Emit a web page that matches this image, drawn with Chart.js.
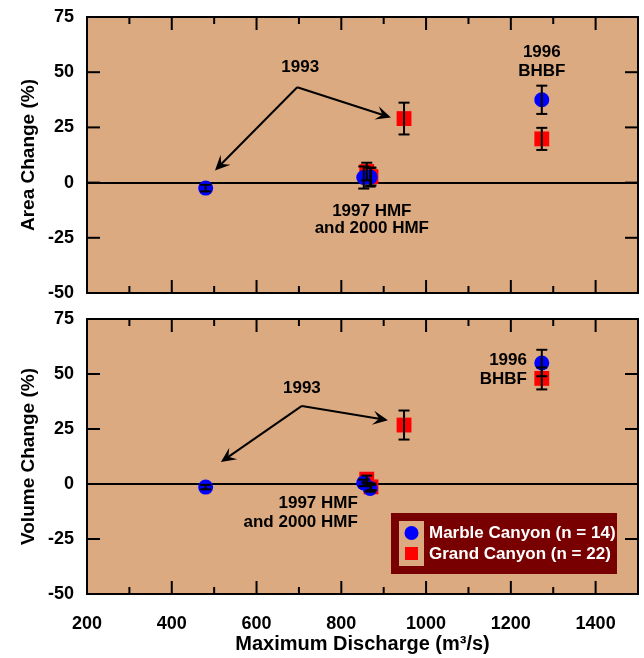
<!DOCTYPE html>
<html>
<head>
<meta charset="utf-8">
<script src="https://cdn.jsdelivr.net/npm/chart.js@4.4.1/dist/chart.umd.min.js"></script>
<style>
  body { margin: 0; background: #fff; }
  #wrap { position: relative; width: 644px; height: 658px; }
  .panel { position: absolute; left: 0; }
  #p1 { top: 0; }
  #p2 { top: 305px; }
</style>
</head>
<body>
<div id="wrap">
  <div class="panel" id="p1"><canvas id="areaChart" width="644" height="305"></canvas></div>
  <div class="panel" id="p2"><canvas id="volChart" width="644" height="353"></canvas></div>
</div>
<script>
// Marble Canyon (circles) and Grand Canyon (squares): 1993, 1997 HMF, 2000 HMF, 1996 BHBF
const marbleDischarge = [480, 853, 868, 1273];
const grandDischarge = [948, 860, 870, 1273];

const marbleArea = [-2.5, 2.3, 2.5, 37.5];
const marbleAreaErr = [1.5, 5, 4.3, 6.4];
const grandArea = [29, 5, 2.7, 19.8];
const grandAreaErr = [7.2, 4, 4, 5];

const marbleVolume = [-1.4, 0.5, -2, 55];
const marbleVolumeErr = [1, 1.5, 1.5, 6];
const grandVolume = [26.8, 2.2, -1.3, 48];
const grandVolumeErr = [6.6, 1.6, 1.5, 5];

const yTicks = [-50, -25, 0, 25, 50, 75];
const xTickStep = 200;

const TAN = '#dcaa80';
const FONT = "'Liberation Sans', Arial, sans-serif";

function pts(xs, ys) {
  return xs.map((x, i) => ({ x: x, y: ys[i] }));
}

function line(ctx, x1, y1, x2, y2) {
  ctx.beginPath();
  ctx.moveTo(x1, y1);
  ctx.lineTo(x2, y2);
  ctx.stroke();
}

function arrow(ctx, x1, y1, x2, y2) {
  const ang = Math.atan2(y2 - y1, x2 - x1);
  const len = 15, half = 7, notch = 9;
  line(ctx, x1, y1, x2 - Math.cos(ang) * notch, y2 - Math.sin(ang) * notch);
  ctx.beginPath();
  ctx.moveTo(x2, y2);
  ctx.lineTo(x2 - Math.cos(ang) * len - Math.sin(ang) * half, y2 - Math.sin(ang) * len + Math.cos(ang) * half);
  ctx.lineTo(x2 - Math.cos(ang) * notch, y2 - Math.sin(ang) * notch);
  ctx.lineTo(x2 - Math.cos(ang) * len + Math.sin(ang) * half, y2 - Math.sin(ang) * len - Math.cos(ang) * half);
  ctx.closePath();
  ctx.fill();
}

// no label overflow padding, so the plot area follows layout.padding exactly
function noOverflow(s) {
  s.paddingTop = 0;
  s.paddingBottom = 0;
  s.paddingLeft = 0;
  s.paddingRight = 0;
}

const panelPlugin = {
  id: 'panel',
  beforeDraw(chart) {
    const a = chart.chartArea, ctx = chart.ctx;
    ctx.save();
    ctx.fillStyle = TAN;
    ctx.fillRect(a.left, a.top, a.right - a.left, a.bottom - a.top);
    ctx.restore();
  },
  afterDatasetsDraw(chart, args, opts) {
    const ctx = chart.ctx, a = chart.chartArea;
    const xs = chart.scales.x, ys = chart.scales.y;
    ctx.save();
    ctx.strokeStyle = '#000';
    ctx.fillStyle = '#000';
    ctx.lineWidth = 2;

    // error bars
    chart.data.datasets.forEach(ds => {
      ds.data.forEach((p, j) => {
        const e = ds.errors[j];
        const px = xs.getPixelForValue(p.x);
        const yt = ys.getPixelForValue(p.y + e), yb = ys.getPixelForValue(p.y - e);
        line(ctx, px, yt, px, yb);
        line(ctx, px - 5.5, yt, px + 5.5, yt);
        line(ctx, px - 5.5, yb, px + 5.5, yb);
      });
    });

    // inward ticks
    xs.ticks.forEach(t => {
      const px = xs.getPixelForValue(t.value);
      line(ctx, px, a.bottom, px, a.bottom - 13);
      line(ctx, px, a.top, px, a.top + 13);
      const mx = xs.getPixelForValue(t.value + xTickStep / 2);
      if (mx < a.right - 2) {
        line(ctx, mx, a.bottom, mx, a.bottom - 7);
        line(ctx, mx, a.top, mx, a.top + 7);
      }
    });
    ys.ticks.forEach(t => {
      const py = ys.getPixelForValue(t.value);
      line(ctx, a.left, py, a.left + 13, py);
      line(ctx, a.right - 13, py, a.right, py);
    });
    ctx.strokeRect(a.left, a.top, a.right - a.left, a.bottom - a.top);

    // annotations
    ctx.font = 'bold 17px ' + FONT;
    ctx.textBaseline = 'middle';
    (opts.texts || []).forEach(t => {
      ctx.textAlign = t.align || 'center';
      ctx.fillText(t.text, xs.getPixelForValue(t.x), ys.getPixelForValue(t.y));
    });
    (opts.arrows || []).forEach(r => {
      arrow(ctx, xs.getPixelForValue(r.from[0]), ys.getPixelForValue(r.from[1]),
        xs.getPixelForValue(r.to[0]), ys.getPixelForValue(r.to[1]));
    });

    // legend box
    if (opts.legend) {
      const bx = a.right - 247, by = a.bottom - 81, bw = 226, bh = 61;
      ctx.fillStyle = '#780000';
      ctx.fillRect(bx, by, bw, bh);
      ctx.fillStyle = TAN;
      ctx.fillRect(bx + 8, by + 8, 25, 45);
      ctx.fillStyle = '#0000ff';
      ctx.beginPath();
      ctx.arc(bx + 20.5, by + 20, 7, 0, Math.PI * 2);
      ctx.fill();
      ctx.fillStyle = '#ff0000';
      ctx.fillRect(bx + 14, by + 34, 13, 13);
      ctx.fillStyle = '#fff';
      ctx.textAlign = 'left';
      ctx.fillText(chart.data.datasets[0].label, bx + 38, by + 20);
      ctx.fillText(chart.data.datasets[1].label, bx + 38, by + 41);
    }
    ctx.restore();
  }
};

function makeChart(id, marbleY, marbleErr, grandY, grandErr, cfg) {
  return new Chart(document.getElementById(id), {
    type: 'scatter',
    data: {
      datasets: [{
        label: 'Marble Canyon (n = 14)',
        data: pts(marbleDischarge, marbleY),
        errors: marbleErr,
        pointStyle: 'circle',
        pointRadius: 7.5,
        pointHoverRadius: 7.5,
        backgroundColor: '#0000ff',
        borderColor: '#0000ff',
        borderWidth: 0
      }, {
        label: 'Grand Canyon (n = 22)',
        data: pts(grandDischarge, grandY),
        errors: grandErr,
        pointStyle: 'rect',
        pointRadius: 10.5,
        pointHoverRadius: 10.5,
        backgroundColor: '#ff0000',
        borderColor: '#ff0000',
        borderWidth: 0
      }]
    },
    options: {
      responsive: false,
      animation: false,
      layout: { autoPadding: false, padding: cfg.padding },
      plugins: {
        legend: { display: false },
        tooltip: { enabled: false },
        panel: cfg.panel
      },
      scales: {
        x: {
          type: 'linear',
          display: cfg.showX,
          min: 200,
          max: 1500,
          afterFit: s => { s.height = cfg.xHeight; noOverflow(s); },
          grid: { display: false },
          border: { display: false },
          ticks: {
            stepSize: xTickStep,
            includeBounds: false,
            autoSkip: false,
            maxRotation: 0,
            padding: 11,
            color: '#000',
            callback: v => String(v),
            font: { family: FONT, size: 18, weight: 'bold' }
          },
          title: {
            display: true,
            text: 'Maximum Discharge (m³/s)',
            color: '#000',
            padding: { top: 0, bottom: 2 },
            font: { family: FONT, size: 20, weight: 'bold' }
          }
        },
        y: {
          min: -50,
          max: 75,
          afterBuildTicks: s => { s.ticks = yTicks.map(v => ({ value: v })); },
          afterFit: s => { s.width = 87; noOverflow(s); },
          grid: {
            color: c => (c.tick && c.tick.value === 0 ? '#000' : 'rgba(0,0,0,0)'),
            lineWidth: 2,
            drawTicks: false
          },
          border: { display: false },
          ticks: {
            padding: 13,
            color: '#000',
            font: { family: FONT, size: 18, weight: 'bold' }
          },
          title: {
            display: true,
            text: cfg.yTitle,
            color: '#000',
            padding: { top: 17, bottom: 0 },
            font: { family: FONT, size: 19, weight: 'bold' }
          }
        }
      }
    },
    plugins: [panelPlugin]
  });
}

makeChart('areaChart', marbleArea, marbleAreaErr, grandArea, grandAreaErr, {
  yTitle: 'Area Change (%)',
  showX: false,
  xHeight: 0,
  padding: { top: 17, bottom: 12, left: 0, right: 6 },
  panel: {
    texts: [
      { text: '1993', x: 703, y: 52 },
      { text: '1997 HMF', x: 872, y: -13 },
      { text: 'and 2000 HMF', x: 872, y: -20.7 },
      { text: '1996', x: 1273, y: 59 },
      { text: 'BHBF', x: 1273, y: 50.5 }
    ],
    arrows: [
      { from: [696, 43.2], to: [502, 5.5] },
      { from: [696, 43.2], to: [917, 29.5] }
    ]
  }
});

makeChart('volChart', marbleVolume, marbleVolumeErr, grandVolume, grandVolumeErr, {
  yTitle: 'Volume Change (%)',
  showX: true,
  xHeight: 64,
  padding: { top: 14, bottom: 0, left: 0, right: 6 },
  panel: {
    texts: [
      { text: '1993', x: 707, y: 43.6 },
      { text: '1997 HMF', x: 839, y: -8.6, align: 'right' },
      { text: 'and 2000 HMF', x: 839, y: -17.3, align: 'right' },
      { text: '1996', x: 1238, y: 56.4, align: 'right' },
      { text: 'BHBF', x: 1238, y: 47.7, align: 'right' }
    ],
    arrows: [
      { from: [707, 35.5], to: [516, 10] },
      { from: [707, 35.5], to: [910, 29] }
    ],
    legend: true
  }
});
</script>
</body>
</html>
